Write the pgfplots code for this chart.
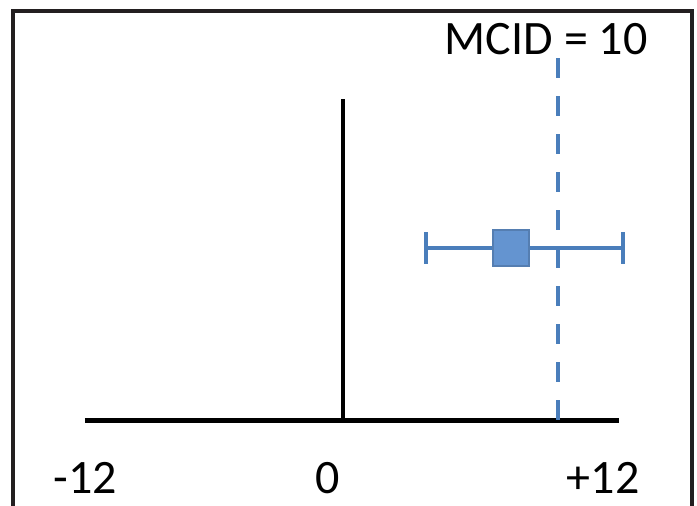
\documentclass[border=0pt]{standalone}
\usepackage{pgfplots}
\pgfplotsset{compat=1.18}
\usepackage{fontspec}
\setmainfont{Carlito}
\definecolor{ebar}{RGB}{74,126,187}
\definecolor{efill}{RGB}{100,148,208}
\definecolor{frame}{RGB}{35,31,32}
\begin{document}
\begin{tikzpicture}
\begin{axis}[
  scale only axis, width=348.5pt, height=252.5pt,
  xmin=-15.953, xmax=16.465, ymin=0, ymax=505,
  axis lines=none, clip=true,
]
\coordinate (ll) at (rel axis cs:0,0);
\coordinate (ur) at (rel axis cs:1,1);
% frame
\draw[frame, line width=1.6pt] (axis cs:-15.35,-20) -- (axis cs:-15.35,494) -- (axis cs:16.23,494) -- (axis cs:16.23,-20);
% horizontal axis line
\addplot[black, line width=2.5pt] coordinates {(-12,85) (12.85,85)};
% vertical zero line
\addplot[black, line width=2pt] coordinates {(0,85) (0,406)};
% MCID dashed line
\addplot[ebar, line width=2pt, dash pattern=on 10pt off 9pt] coordinates {(10,447) (10,85)};
% confidence interval
\addplot[ebar, line width=2pt, mark=|, mark size=8pt, mark options={line width=2pt}]
  coordinates {(3.85,257) (13.0,257)};
% estimate
\addplot[ebar, only marks, mark=square*, mark size=9pt,
  mark options={fill=efill, draw=efill!85!black, line width=0.8pt, rounded corners=3pt}]
  coordinates {(7.8,257)};
% labels
\node[font=\fontsize{24}{28}\selectfont] at (axis cs:-12,27) {-12};
\node[font=\fontsize{24}{28}\selectfont] at (axis cs:-0.7,27) {0};
\node[font=\fontsize{24}{28}\selectfont] at (axis cs:12.1,27) {+12};
\node[font=\fontsize{24}{28}\selectfont] at (axis cs:9.45,466) {MCID = 10};
\end{axis}
\pgfresetboundingbox
\path[use as bounding box] (ll) rectangle (ur);
\end{tikzpicture}
\end{document}
